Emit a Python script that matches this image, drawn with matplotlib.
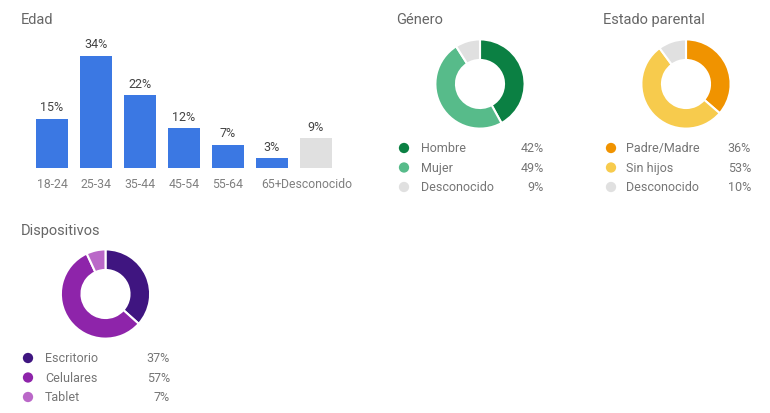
import matplotlib
matplotlib.use("Agg")
import matplotlib.pyplot as plt

plt.rcParams['font.family'] = ['Roboto', 'DejaVu Sans']

# ---- data ----
age_labels = ["18-24", "25-34", "35-44", "45-54", "55-64", "65+", "Desconocido"]
age_values = [15, 34, 22, 12, 7, 3, 9]

gender_labels = ["Hombre", "Mujer", "Desconocido"]
gender_values = [42, 49, 9]

parent_labels = ["Padre/Madre", "Sin hijos", "Desconocido"]
parent_values = [36, 53, 10]

device_labels = ["Escritorio", "Celulares", "Tablet"]
device_values = [37, 57, 7]

# ---- styles ----
W, H = 770, 414
BLUE = "#3b78e3"
GREY = "#e0e0e0"
gender_colors = ["#0b8043", "#57bb8a", GREY]
parent_colors = ["#f09300", "#f7cb4d", GREY]
device_colors = ["#3f1580", "#8e24aa", "#ba68c8"]
TITLE_C = "#666666"
TEXT_C = "#757575"

fig = plt.figure(figsize=(W / 100, H / 100), dpi=100)
fig.patch.set_facecolor("white")


def px_axes(x0, y0, x1, y1):
    return fig.add_axes([x0 / W, 1 - y1 / H, (x1 - x0) / W, (y1 - y0) / H])


# overlay for titles and legends
ov = fig.add_axes([0, 0, 1, 1])
ov.set_xlim(0, W)
ov.set_ylim(H, 0)
ov.axis("off")
ov.set_zorder(5)

# ---- bar chart ----
axb = px_axes(30, 30, 338, 169)
bar_colors = [BLUE] * (len(age_values) - 1) + [GREY]
xs = list(range(len(age_values)))
bars = axb.bar(xs, age_values, width=32 / 44, color=bar_colors)
axb.set_xlim(-0.5, len(age_values) - 0.5)
axb.set_ylim(0, 139 / 3.3)
for b, v in zip(bars, age_values):
    axb.annotate(f"{v}%", (b.get_x() + b.get_width() / 2, v), xytext=(0, 4),
                 textcoords="offset points", ha="center", va="bottom",
                 fontsize=9, color="#444444")
axb.set_xticks(xs)
axb.set_xticklabels(age_labels, fontsize=8.8, color="#808080")
axb.tick_params(axis="x", length=0, pad=6.5)
axb.set_yticks([])
for s in axb.spines.values():
    s.set_visible(False)
axb.patch.set_alpha(0)

# ---- donuts ----
def donut(cx, cy, values, colors):
    r = 45.5
    ax = px_axes(cx - r, cy - r, cx + r, cy + r)
    ax.pie(values, colors=colors, startangle=90, counterclock=False, radius=1,
           wedgeprops=dict(width=21 / 45.5, edgecolor="white", linewidth=1.5))
    ax.set_xlim(-1.02, 1.02)
    ax.set_ylim(-1.02, 1.02)
    ax.axis("off")


def legend(x_marker, x_text, x_pct, y0, labels, values, colors):
    for i, (lab, v, c) in enumerate(zip(labels, values, colors)):
        y = y0 + i * 19.5
        ov.scatter([x_marker], [y], s=55, color=c, edgecolors="none")
        ov.text(x_text, y, lab, ha="left", va="center", fontsize=9, color=TEXT_C)
        ov.text(x_pct, y, f"{v}%", ha="right", va="center", fontsize=9, color=TEXT_C)


# titles
ov.text(21, 20, "Edad", ha="left", va="center", fontsize=10.5, color=TITLE_C)
ov.text(396, 20, "Género", ha="left", va="center", fontsize=10.5, color=TITLE_C)
ov.text(603, 20, "Estado parental", ha="left", va="center", fontsize=10.5, color=TITLE_C)
ov.text(21, 231, "Dispositivos", ha="left", va="center", fontsize=10.5, color=TITLE_C)

donut(480, 85, gender_values, gender_colors)
donut(686, 85, parent_values, parent_colors)
donut(105.5, 295, device_values, device_colors)

legend(404, 421, 544, 149, gender_labels, gender_values, gender_colors)
legend(611, 626, 751, 149, parent_labels, parent_values, parent_colors)
legend(28, 45, 170, 359, device_labels, device_values, device_colors)

fig.savefig("out.png", dpi=100, facecolor="white")
